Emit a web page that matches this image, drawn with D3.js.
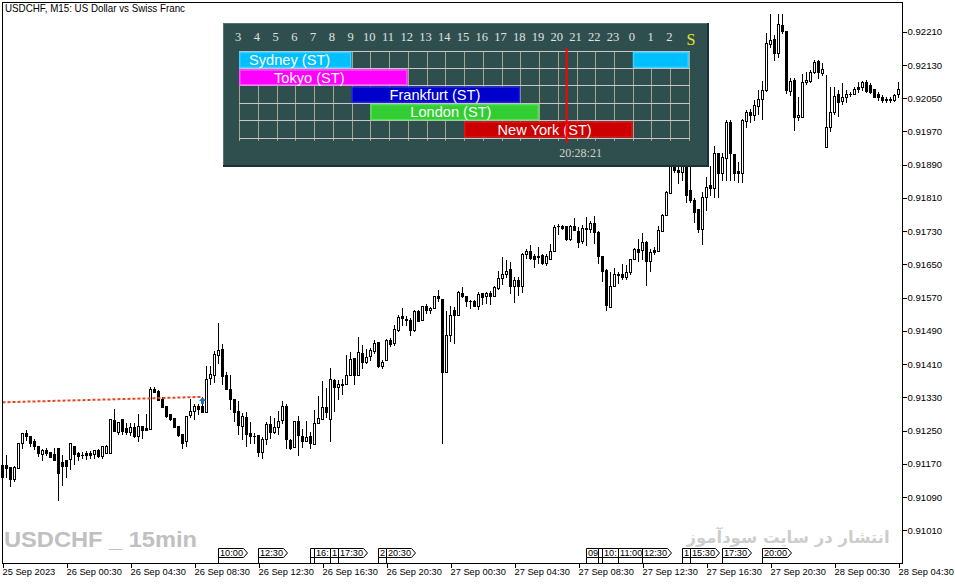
<!DOCTYPE html>
<html><head><meta charset="utf-8">
<script src="https://cdn.jsdelivr.net/npm/d3@7"></script>
<style>
html,body{margin:0;padding:0;background:#fff;overflow:hidden}
svg{display:block}
</style></head><body>
<svg id="chart" width="955" height="584"></svg>
<script>
// ---------------- DATA ----------------
const symbolTitle = "USDCHF, M15:  US Dollar vs Swiss Franc";
const openPrices = [0.91167,0.91167,0.91162,0.91134,0.91160,0.91219,0.91243,0.91238,0.91224,0.91214,
0.91194,0.91203,0.91198,0.91193,0.91208,0.91174,0.91179,0.91182,0.91212,0.91197,
0.91191,0.91196,0.91196,0.91194,0.91204,0.91189,0.91197,0.91197,0.91275,0.91246,
0.91279,0.91256,0.91246,0.91259,0.91238,0.91262,0.91256,0.91254,0.91349,0.91346,
0.91326,0.91309,0.91291,0.91281,0.91261,0.91241,0.91224,0.91287,0.91298,0.91309,
0.91309,0.91295,0.91377,0.91383,0.91433,0.91446,0.91383,0.91351,0.91327,0.91297,
0.91262,0.91282,0.91243,0.91238,0.91239,0.91199,0.91229,0.91265,0.91247,0.91259,
0.91275,0.91308,0.91227,0.91211,0.91274,0.91238,0.91225,0.91236,0.91217,0.91267,
0.91278,0.91306,0.91278,0.91371,0.91354,0.91363,0.91363,0.91383,0.91424,0.91384,
0.91436,0.91416,0.91430,0.91442,0.91463,0.91406,0.91419,0.91469,0.91460,0.91492,
0.91525,0.91518,0.91517,0.91492,0.91537,0.91515,0.91549,0.91539,0.91546,0.91573,
0.91566,0.91392,0.91479,0.91540,0.91527,0.91581,0.91575,0.91561,0.91561,0.91550,
0.91580,0.91573,0.91580,0.91575,0.91593,0.91617,0.91627,0.91638,0.91598,0.91612,
0.91597,0.91675,0.91682,0.91669,0.91667,0.91672,0.91654,0.91664,0.91681,0.91742,
0.91743,0.91743,0.91711,0.91743,0.91730,0.91707,0.91737,0.91736,0.91749,0.91728,
0.91669,0.91636,0.91548,0.91599,0.91628,0.91626,0.91619,0.91631,0.91663,0.91686,
0.91684,0.91704,0.91659,0.91684,0.91683,0.91731,0.91768,0.91822,0.91901,0.91877,
0.91872,0.91889,0.91829,0.91805,0.91783,0.91735,0.91813,0.91841,0.91833,0.91919,
0.91870,0.91905,0.91993,0.91915,0.91874,0.91870,0.91996,0.92017,0.92009,0.92032,
0.92049,0.92069,0.92180,0.92192,0.92159,0.92226,0.92212,0.92067,0.92093,0.92004,
0.92005,0.92089,0.92091,0.92112,0.92139,0.92111,0.91932,0.91980,0.92017,0.92060,
0.92044,0.92052,0.92061,0.92061,0.92077,0.92077,0.92089,0.92081,0.92071,0.92061,
0.92053,0.92048,0.92048,0.92045,0.92059];
const highPrices = [0.91172,0.91191,0.91162,0.91164,0.91220,0.91244,0.91251,0.91238,0.91229,0.91214,
0.91206,0.91209,0.91199,0.91208,0.91208,0.91191,0.91180,0.91220,0.91214,0.91199,
0.91199,0.91200,0.91200,0.91204,0.91206,0.91214,0.91216,0.91278,0.91302,0.91271,
0.91279,0.91267,0.91267,0.91267,0.91290,0.91262,0.91290,0.91355,0.91355,0.91347,
0.91331,0.91309,0.91291,0.91281,0.91261,0.91241,0.91285,0.91325,0.91314,0.91315,
0.91330,0.91405,0.91405,0.91442,0.91508,0.91458,0.91391,0.91383,0.91327,0.91321,
0.91293,0.91294,0.91270,0.91245,0.91239,0.91235,0.91271,0.91285,0.91280,0.91297,
0.91321,0.91314,0.91229,0.91274,0.91285,0.91253,0.91274,0.91247,0.91299,0.91334,
0.91369,0.91352,0.91401,0.91375,0.91371,0.91375,0.91431,0.91439,0.91424,0.91475,
0.91457,0.91446,0.91448,0.91468,0.91463,0.91419,0.91471,0.91473,0.91504,0.91527,
0.91546,0.91525,0.91522,0.91540,0.91540,0.91550,0.91554,0.91548,0.91574,0.91588,
0.91566,0.91537,0.91550,0.91547,0.91585,0.91595,0.91575,0.91564,0.91564,0.91583,
0.91581,0.91583,0.91585,0.91599,0.91633,0.91667,0.91660,0.91655,0.91620,0.91620,
0.91678,0.91686,0.91696,0.91675,0.91691,0.91675,0.91675,0.91700,0.91745,0.91747,
0.91745,0.91743,0.91745,0.91761,0.91740,0.91744,0.91765,0.91755,0.91766,0.91731,
0.91670,0.91639,0.91631,0.91641,0.91631,0.91651,0.91649,0.91663,0.91689,0.91711,
0.91726,0.91707,0.91686,0.91691,0.91742,0.91771,0.91827,0.91913,0.91925,0.91889,
0.91901,0.91901,0.91884,0.91809,0.91783,0.91825,0.91861,0.91886,0.91935,0.91919,
0.91917,0.91997,0.91997,0.91915,0.91897,0.92001,0.92021,0.92025,0.92045,0.92069,
0.92092,0.92206,0.92252,0.92202,0.92252,0.92252,0.92212,0.92098,0.92098,0.92053,
0.92108,0.92113,0.92118,0.92143,0.92143,0.92134,0.92106,0.92077,0.92076,0.92069,
0.92086,0.92069,0.92065,0.92076,0.92089,0.92092,0.92093,0.92086,0.92073,0.92065,
0.92057,0.92052,0.92053,0.92060,0.92089];
const lowPrices = [0.91136,0.91137,0.91117,0.91129,0.91160,0.91208,0.91227,0.91212,0.91206,0.91189,
0.91180,0.91192,0.91186,0.91179,0.91083,0.91119,0.91137,0.91158,0.91169,0.91179,
0.91185,0.91182,0.91185,0.91184,0.91187,0.91185,0.91197,0.91197,0.91249,0.91241,
0.91241,0.91241,0.91239,0.91235,0.91224,0.91233,0.91251,0.91253,0.91342,0.91323,
0.91306,0.91283,0.91275,0.91259,0.91237,0.91207,0.91213,0.91282,0.91278,0.91289,
0.91294,0.91295,0.91363,0.91367,0.91412,0.91362,0.91350,0.91302,0.91273,0.91241,
0.91230,0.91213,0.91221,0.91219,0.91189,0.91184,0.91217,0.91232,0.91245,0.91242,
0.91269,0.91207,0.91206,0.91211,0.91192,0.91211,0.91225,0.91207,0.91217,0.91267,
0.91278,0.91283,0.91225,0.91298,0.91325,0.91337,0.91363,0.91383,0.91361,0.91384,
0.91401,0.91412,0.91419,0.91436,0.91404,0.91401,0.91419,0.91453,0.91455,0.91490,
0.91505,0.91504,0.91481,0.91489,0.91513,0.91515,0.91534,0.91532,0.91546,0.91562,
0.91219,0.91392,0.91465,0.91461,0.91527,0.91572,0.91550,0.91546,0.91550,0.91543,
0.91554,0.91558,0.91555,0.91573,0.91590,0.91603,0.91619,0.91580,0.91560,0.91577,
0.91584,0.91666,0.91663,0.91644,0.91654,0.91650,0.91649,0.91663,0.91681,0.91723,
0.91734,0.91708,0.91708,0.91733,0.91692,0.91702,0.91697,0.91728,0.91702,0.91654,
0.91610,0.91539,0.91547,0.91598,0.91606,0.91615,0.91615,0.91628,0.91662,0.91658,
0.91662,0.91601,0.91634,0.91676,0.91683,0.91731,0.91768,0.91821,0.91872,0.91846,
0.91853,0.91800,0.91800,0.91752,0.91728,0.91700,0.91781,0.91817,0.91813,0.91813,
0.91853,0.91853,0.91853,0.91853,0.91849,0.91849,0.91981,0.91993,0.91997,0.92013,
0.91999,0.92068,0.92172,0.92143,0.92150,0.92206,0.92063,0.92057,0.91973,0.91997,
0.92004,0.92084,0.92089,0.92110,0.92098,0.92106,0.91932,0.91971,0.92013,0.92008,
0.92037,0.92040,0.92056,0.92060,0.92065,0.92069,0.92065,0.92063,0.92052,0.92045,
0.92041,0.92041,0.92041,0.92043,0.92053];
const closePrices = [0.91137,0.91160,0.91134,0.91162,0.91219,0.91243,0.91237,0.91221,0.91212,0.91196,
0.91202,0.91197,0.91187,0.91180,0.91148,0.91165,0.91165,0.91219,0.91194,0.91188,
0.91191,0.91191,0.91192,0.91204,0.91189,0.91212,0.91212,0.91277,0.91249,0.91270,
0.91249,0.91246,0.91258,0.91238,0.91261,0.91251,0.91251,0.91349,0.91343,0.91323,
0.91307,0.91285,0.91278,0.91259,0.91240,0.91220,0.91284,0.91298,0.91309,0.91302,
0.91295,0.91375,0.91385,0.91434,0.91444,0.91382,0.91351,0.91327,0.91294,0.91263,
0.91285,0.91242,0.91237,0.91238,0.91199,0.91229,0.91265,0.91247,0.91258,0.91274,
0.91308,0.91229,0.91208,0.91273,0.91240,0.91225,0.91234,0.91221,0.91267,0.91280,
0.91306,0.91294,0.91373,0.91355,0.91363,0.91360,0.91383,0.91422,0.91383,0.91438,
0.91416,0.91428,0.91443,0.91460,0.91406,0.91415,0.91469,0.91459,0.91494,0.91524,
0.91520,0.91515,0.91492,0.91537,0.91513,0.91550,0.91539,0.91545,0.91573,0.91569,
0.91392,0.91479,0.91527,0.91528,0.91583,0.91574,0.91561,0.91561,0.91550,0.91578,
0.91571,0.91580,0.91574,0.91595,0.91617,0.91628,0.91635,0.91598,0.91612,0.91598,
0.91676,0.91682,0.91666,0.91663,0.91669,0.91653,0.91669,0.91682,0.91739,0.91742,
0.91738,0.91711,0.91742,0.91733,0.91705,0.91737,0.91736,0.91749,0.91728,0.91670,
0.91633,0.91551,0.91599,0.91628,0.91625,0.91620,0.91631,0.91662,0.91686,0.91679,
0.91704,0.91659,0.91679,0.91679,0.91732,0.91768,0.91823,0.91901,0.91877,0.91872,
0.91889,0.91817,0.91805,0.91776,0.91735,0.91813,0.91837,0.91833,0.91917,0.91869,
0.91909,0.91993,0.91917,0.91870,0.91869,0.91997,0.92016,0.92009,0.92033,0.92049,
0.92069,0.92182,0.92190,0.92159,0.92228,0.92212,0.92069,0.92091,0.92005,0.92009,
0.92089,0.92093,0.92112,0.92136,0.92112,0.92120,0.91980,0.92017,0.92056,0.92041,
0.92052,0.92061,0.92061,0.92073,0.92072,0.92088,0.92067,0.92065,0.92053,0.92052,
0.92045,0.92045,0.92045,0.92057,0.92073];

const timeTickBars = [0,16,32,48,64,80,96,112,128,144,160,176,192,208,224];
const timeTickLabels = ["25 Sep 2023","26 Sep 00:30","26 Sep 04:30","26 Sep 08:30","26 Sep 12:30","26 Sep 16:30","26 Sep 20:30","27 Sep 00:30","27 Sep 04:30","27 Sep 08:30","27 Sep 12:30","27 Sep 16:30","27 Sep 20:30","28 Sep 00:30","28 Sep 04:30"];
const priceTicks = [0.91010,0.91090,0.91170,0.91250,0.91330,0.91410,0.91490,0.91570,0.91650,0.91730,0.91810,0.91890,0.91970,0.92050,0.92130,0.92210];

const eventBars = [54,64,77,78,82,84,94,96,146,149,150,154,160,170,172,180,190];
const eventLabels = ["10:00","12:30","15:45","16:00","17:00","17:30","20:00","20:30","09:00","09:45","10:00","11:00","12:30","15:00","15:30","17:30","20:00"];

const tradeBars = [0,50];
const tradePrices = [0.91318,0.91331];
const arrowBar = 50, arrowPrice = 0.91321;

const panelHours = [3,4,5,6,7,8,9,10,11,12,13,14,15,16,17,18,19,20,21,22,23,0,1,2];
const sessionNames = ["Sydney (ST)","Tokyo (ST)","Frankfurt (ST)","London (ST)","New York (ST)"];
const sessionStart = [0,3,9,10,15];
const sessionEnd = [9,12,18,19,24];
const sessionColors = ["#00BFFF","#FF00FF","#0000CD","#32CD32","#CC0000"];
const sessionEdge = ["#3fd0ff","#ff55ff","#2020e0","#55dd55","#e01515"];
const currentTime = "20:28:21";
const watermarkText = "USDCHF _ 15min";
const siteText = "انتشار در سایت سودآموز";

// ---------------- DRAW ----------------
const svg = d3.select("#chart");
const n = openPrices.length;
const x = d3.scaleLinear().domain([0, n - 1]).range([2.5, 898.5]);
const y = d3.scaleLinear().domain([0.909288, 0.922863]).range([564, 0]);
const ry = v => Math.round(y(v));

svg.append("rect").attr("width",955).attr("height",584).attr("fill","#fff");

// candles
const cg = svg.append("g").attr("shape-rendering","crispEdges");
const bars = d3.range(n).map(i => ({i, o:openPrices[i], h:highPrices[i], l:lowPrices[i], c:closePrices[i]}));
cg.selectAll("line.wick").data(bars).join("line")
  .attr("x1", d => x(d.i)).attr("x2", d => x(d.i))
  .attr("y1", d => ry(d.h)).attr("y2", d => ry(d.l) + 1)
  .attr("stroke","#000").attr("stroke-width",1);
bars.forEach(d => {
  const top = ry(Math.max(d.o,d.c)), bot = ry(Math.min(d.o,d.c));
  const cx = x(d.i);
  if (bot - top < 1) {
    cg.append("rect").attr("x", cx-1.5).attr("y", top).attr("width",3).attr("height",1).attr("fill","#000");
  } else if (d.c > d.o) {
    cg.append("rect").attr("x", cx-1).attr("y", top+0.5).attr("width",2).attr("height", bot-top)
      .attr("fill","#fff").attr("stroke","#000").attr("stroke-width",1);
  } else {
    cg.append("rect").attr("x", cx-1.5).attr("y", top).attr("width",3).attr("height", bot-top+1).attr("fill","#000");
  }
});

// trade line and arrow
svg.append("line")
  .attr("x1", x(tradeBars[0])).attr("y1", y(tradePrices[0]))
  .attr("x2", x(tradeBars[1])).attr("y2", y(tradePrices[1]))
  .attr("stroke","#E8461A").attr("stroke-width",2).attr("stroke-dasharray","3,2");
{
  const ax = x(arrowBar), ay = y(arrowPrice);
  svg.append("path")
    .attr("d", `M${ax-3.5},${ay} L${ax},${ay-4} L${ax+3.5},${ay} L${ax+1.5},${ay} L${ax+1.5},${ay+3} L${ax-1.5},${ay+3} L${ax-1.5},${ay} Z`)
    .attr("fill","#1E6EBE");
}

// frame
const fg = svg.append("g").attr("shape-rendering","crispEdges").attr("stroke","#000");
fg.append("line").attr("x1",2.5).attr("x2",2.5).attr("y1",2).attr("y2",564);
fg.append("line").attr("x1",2).attr("x2",903).attr("y1",2.5).attr("y2",2.5);

// axes
const yAxis = d3.axisRight(y).tickValues(priceTicks).tickFormat(d3.format(".5f")).tickSize(4).tickSizeOuter(0).tickPadding(1);
const yg = svg.append("g").attr("transform","translate(902.5,0)").call(yAxis);
yg.select(".domain").attr("d","M0,2V564").attr("shape-rendering","crispEdges");
yg.selectAll(".tick line").attr("shape-rendering","crispEdges");
yg.selectAll("text").attr("font-family","'Liberation Sans', Arial, sans-serif").attr("font-size","9.6px").attr("fill","#000");

const xAxis = d3.axisBottom(x).tickValues(timeTickBars).tickFormat((d,i) => timeTickLabels[i]).tickSize(4).tickSizeOuter(0).tickPadding(1);
const xg = svg.append("g").attr("transform","translate(0,563.5)").call(xAxis);
xg.select(".domain").attr("d","M2,0H903").attr("shape-rendering","crispEdges");
xg.selectAll(".tick line").attr("shape-rendering","crispEdges");
xg.selectAll("text").attr("text-anchor","start").attr("dx","-0.5")
  .attr("font-family","'Liberation Sans', Arial, sans-serif").attr("font-size","9.3px").attr("fill","#000");

// title
svg.append("text").attr("x",5).attr("y",12).text(symbolTitle)
  .attr("font-family","'Liberation Sans', Arial, sans-serif").attr("font-size","10.5px")
  .attr("textLength",180).attr("lengthAdjust","spacingAndGlyphs").attr("fill","#000");

// watermarks
svg.append("text").attr("x",4).attr("y",547).text(watermarkText)
  .attr("font-family","'Liberation Sans', Arial, sans-serif").attr("font-weight","bold").attr("font-size","22px")
  .attr("textLength",193).attr("lengthAdjust","spacingAndGlyphs").attr("fill","#C0C0C0").style("white-space","pre");
svg.append("text").attr("x",788).attr("y",543).attr("text-anchor","middle").text(siteText)
  .attr("font-family","'DejaVu Sans', sans-serif").attr("font-weight","bold").attr("font-size","16.5px")
  .attr("fill","#CDCDCD");

// event markers (later markers cover earlier ones; labels trimmed to visible room)
const eg = svg.append("g");
eventBars.forEach((b, k) => {
  const cx = x(b);
  const room = k < eventBars.length - 1 ? Math.min(40, x(eventBars[k+1]) - cx) : 40;
  const g = eg.append("g");
  g.append("line").attr("x1",cx).attr("x2",cx).attr("y1",557).attr("y2",564).attr("stroke","#000").attr("shape-rendering","crispEdges");
  g.append("path").attr("d", `M${cx},548.5 H${cx+25} L${cx+29},553 L${cx+25},557.5 H${cx} Z`)
    .attr("fill","#fff").attr("stroke","#000").attr("stroke-width",1);
  const t = g.append("text").attr("x",cx+1.5).attr("y",556.3)
    .attr("font-family","'Liberation Sans', Arial, sans-serif").attr("font-size","9.2px").attr("fill","#000");
  let label = eventLabels[k];
  t.text(label);
  while (label.length > 0 && t.node().getComputedTextLength() > room - 1.5) {
    label = label.slice(0, -1);
    t.text(label);
  }
  if (label.length === 0) t.remove();
});

// ---------------- SESSION PANEL ----------------
const pg = svg.append("g");
pg.append("rect").attr("x",223).attr("y",23).attr("width",486).attr("height",144).attr("fill","#2F4F4F");
pg.append("line").attr("x1",223).attr("x2",709).attr("y1",23.5).attr("y2",23.5).attr("stroke","#557373");
pg.append("line").attr("x1",223.5).attr("x2",223.5).attr("y1",23).attr("y2",167).attr("stroke","#557373");
pg.append("line").attr("x1",223).attr("x2",709).attr("y1",166).attr("y2",166).attr("stroke","#1A3232").attr("stroke-width",2);
pg.append("line").attr("x1",708).attr("x2",708).attr("y1",23).attr("y2",167).attr("stroke","#1A3232").attr("stroke-width",2);

const px = d3.scaleLinear().domain([0,24]).range([239,689]);
const rowTop = 50.5, rowH = 17.4;
const gl = pg.append("g").attr("shape-rendering","crispEdges");
d3.range(25).forEach(c => {
  gl.append("line").attr("x1",Math.round(px(c))+0.5).attr("x2",Math.round(px(c))+0.5)
    .attr("y1",rowTop).attr("y2",rowTop+5*rowH+3).attr("stroke","#A9A58C");
});
d3.range(6).forEach(r => {
  gl.append("line").attr("x1",239).attr("x2",690).attr("y1",Math.round(rowTop+r*rowH)+0.5).attr("y2",Math.round(rowTop+r*rowH)+0.5)
    .attr("stroke","#C8C8C8");
});
pg.selectAll("text.hour").data(panelHours).join("text")
  .attr("x",(d,i) => px(i)-1).attr("y",41).attr("text-anchor","middle").text(d => d)
  .attr("font-family","'Liberation Serif', 'Times New Roman', serif").attr("font-size","12.5px").attr("fill","#E0E0E0");
pg.append("text").attr("x",px(24)+2).attr("y",45).attr("text-anchor","middle").text("S")
  .attr("font-family","'Liberation Serif', 'Times New Roman', serif").attr("font-size","16px").attr("fill","#E6E62A");

const labelCol = [2.7,3.75,10.45,11.3,16.3];
sessionNames.forEach((nm, r) => {
  const c0 = (sessionStart[r] - 3 + 24) % 24;
  let c1 = (sessionEnd[r] - 3 + 24) % 24; if (c1 === 0) c1 = 24;
  const segs = c0 < c1 ? [[c0,c1]] : [[c0,24],[0,c1]];
  const yt = rowTop + r*rowH + 2, hh = rowH - 2.5;
  segs.forEach(s => {
    pg.append("rect").attr("x",px(s[0])+0.75).attr("y",yt).attr("width",px(s[1])-px(s[0])-1.5).attr("height",hh)
      .attr("fill",sessionColors[r]).attr("stroke",sessionEdge[r]).attr("stroke-width",1.5);
  });
  pg.append("text").attr("x",px(labelCol[r])).attr("y",yt+hh-2.3).attr("text-anchor","middle").text(nm)
    .attr("font-family","'Liberation Sans', Arial, sans-serif").attr("font-size","14.6px").attr("fill","#fff");
});

// current time line
const tp = currentTime.split(":").map(Number);
const tHour = tp[0] + tp[1]/60 + tp[2]/3600;
const tx = px((tHour - 3 + 24) % 24);
pg.append("line").attr("x1",tx).attr("x2",tx).attr("y1",48).attr("y2",143).attr("stroke","#FF0000").attr("stroke-width",2);
pg.append("text").attr("x",tx+14).attr("y",157).attr("text-anchor","middle").text(currentTime)
  .attr("font-family","'Liberation Serif', 'Times New Roman', serif").attr("font-size","12px").attr("fill","#D2D2C8");
</script>
</body></html>
